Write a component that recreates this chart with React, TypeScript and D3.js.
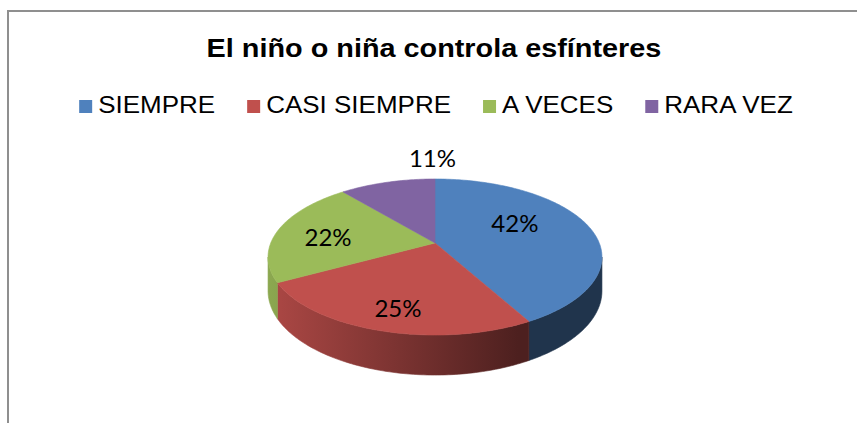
import React, { useEffect, useRef } from 'react';
import * as d3 from 'd3';

const title = 'El niño o niña controla esfínteres';
const categories = ['SIEMPRE', 'CASI SIEMPRE', 'A VECES', 'RARA VEZ'];
const values = [42, 25, 22, 11];
const valueLabels = ['42%', '25%', '22%', '11%'];
const colors = ['#4f81bd', '#c0504d', '#9bbb59', '#8064a2'];

// where each data label sits on the disk (radius fraction, turn from slice middle in degrees)
const labelRadius = [0.58, 0.77, 0.665, 1.41];
const labelTurn = [-14, -1.5, -4, 19];

const W = 857;
const H = 423;
const STRETCH = 1.13; // the original text looks a bit wider than Arial

const App = () => {
  const ref = useRef<SVGSVGElement>(null);

  useEffect(() => {
    if (!ref.current) return;
    const svg = d3.select(ref.current);
    svg.selectAll('*').remove();

    // chart frame
    svg.append('rect')
      .attr('x', 8)
      .attr('y', 11)
      .attr('width', W + 50)
      .attr('height', H + 50)
      .attr('fill', '#fff')
      .attr('stroke', '#8f8f8f')
      .attr('stroke-width', 2);

    // title
    const t = svg.append('text')
      .attr('y', 57)
      .style('font-family', '"Liberation Sans", Arial, sans-serif')
      .style('font-weight', 'bold')
      .style('font-size', '25.5px')
      .attr('fill', '#000')
      .text(title);
    const tw = (t.node() as SVGTextElement).getComputedTextLength() * STRETCH;
    t.attr('x', 434 - tw / 2)
      .attr('textLength', tw)
      .attr('lengthAdjust', 'spacingAndGlyphs');

    // legend
    const sq = 13;
    const sqGap = 6;
    const itemGap = 32;
    const legend = svg.append('g');
    const items = categories.map((c, i) => {
      const txt = legend.append('text')
        .attr('y', 113)
        .style('font-family', '"Liberation Sans", Arial, sans-serif')
        .style('font-size', '23px')
        .attr('fill', '#000')
        .text(c);
      const w = (txt.node() as SVGTextElement).getComputedTextLength() * STRETCH;
      txt.attr('textLength', w).attr('lengthAdjust', 'spacingAndGlyphs');
      return { txt, w, i };
    });
    const total = d3.sum(items, d => sq + sqGap + d.w) + itemGap * (items.length - 1);
    let lx = 436 - total / 2;
    items.forEach(d => {
      legend.append('rect')
        .attr('x', lx)
        .attr('y', 100)
        .attr('width', sq)
        .attr('height', sq)
        .attr('fill', colors[d.i]);
      d.txt.attr('x', lx + sq + sqGap);
      lx += sq + sqGap + d.w + itemGap;
    });

    // 3D pie with a little perspective
    const cx = 435, cy = 243;
    const D = 5.571, A = 420.6, B = 915, E = 183;
    const project = (r: number, phi: number, h: number): [number, number] => {
      const x = r * Math.sin(phi);
      const z = -r * Math.cos(phi);
      const k = D - z;
      return [cx + (B * x) / k, cy + (A * z + E * h) / k];
    };
    const arcPts = (a0: number, a1: number, h: number) => {
      const n = Math.max(2, Math.ceil(((a1 - a0) * 180) / Math.PI));
      return d3.range(n + 1).map(j => project(1, a0 + ((a1 - a0) * j) / n, h));
    };
    const line = d3.line().curve(d3.curveLinearClosed);

    const arcs = d3.pie<number>().sort(null).value(d => d)(values);

    const defs = svg.append('defs');
    colors.forEach((c, i) => {
      const g = defs.append('linearGradient')
        .attr('id', `side-${i}`)
        .attr('gradientUnits', 'userSpaceOnUse')
        .attr('x1', cx - 167).attr('x2', cx + 167)
        .attr('y1', 0).attr('y2', 0);
      const base = d3.rgb(c);
      const shade = (f: number) => d3.rgb(base.r * f, base.g * f, base.b * f).formatHex();
      g.append('stop').attr('offset', '0%').attr('stop-color', shade(0.9));
      g.append('stop').attr('offset', '75%').attr('stop-color', shade(0.4));
      g.append('stop').attr('offset', '100%').attr('stop-color', shade(0.4));
    });

    const pieG = svg.append('g');
    const phiMin = Math.acos(-1 / D);
    const phiMax = 2 * Math.PI - phiMin;

    // side walls (front half only)
    arcs.forEach((a, i) => {
      const a0 = Math.max(a.startAngle, phiMin);
      const a1 = Math.min(a.endAngle, phiMax);
      if (a1 <= a0) return;
      const top = arcPts(a0, a1, 0);
      const bottom = arcPts(a0, a1, 1).reverse();
      pieG.append('path')
        .attr('d', line([...top, ...bottom]))
        .attr('fill', `url(#side-${i})`)
        .attr('stroke', `url(#side-${i})`)
        .attr('stroke-width', 0.6);
    });

    // top faces
    arcs.forEach((a, i) => {
      const pts = [project(0, 0, 0), ...arcPts(a.startAngle, a.endAngle, 0)];
      pieG.append('path')
        .attr('d', line(pts))
        .attr('fill', colors[i])
        .attr('stroke', colors[i])
        .attr('stroke-width', 0.6);
    });

    // data labels
    arcs.forEach((a, i) => {
      const mid = (a.startAngle + a.endAngle) / 2 + (labelTurn[i] * Math.PI) / 180;
      const [x, y] = project(labelRadius[i], mid, 0);
      pieG.append('text')
        .attr('x', x)
        .attr('y', y)
        .attr('dy', '0.36em')
        .attr('text-anchor', 'middle')
        .style('font-family', 'Lato, "Open Sans", sans-serif')
        .style('font-size', '24px')
        .attr('fill', '#000')
        .text(valueLabels[i]);
    });
  }, []);

  return (
    <svg
      ref={ref}
      width={W}
      height={H}
      style={{ position: 'absolute', left: 0, top: 0, background: '#fff' }}
    />
  );
};

export default App;
